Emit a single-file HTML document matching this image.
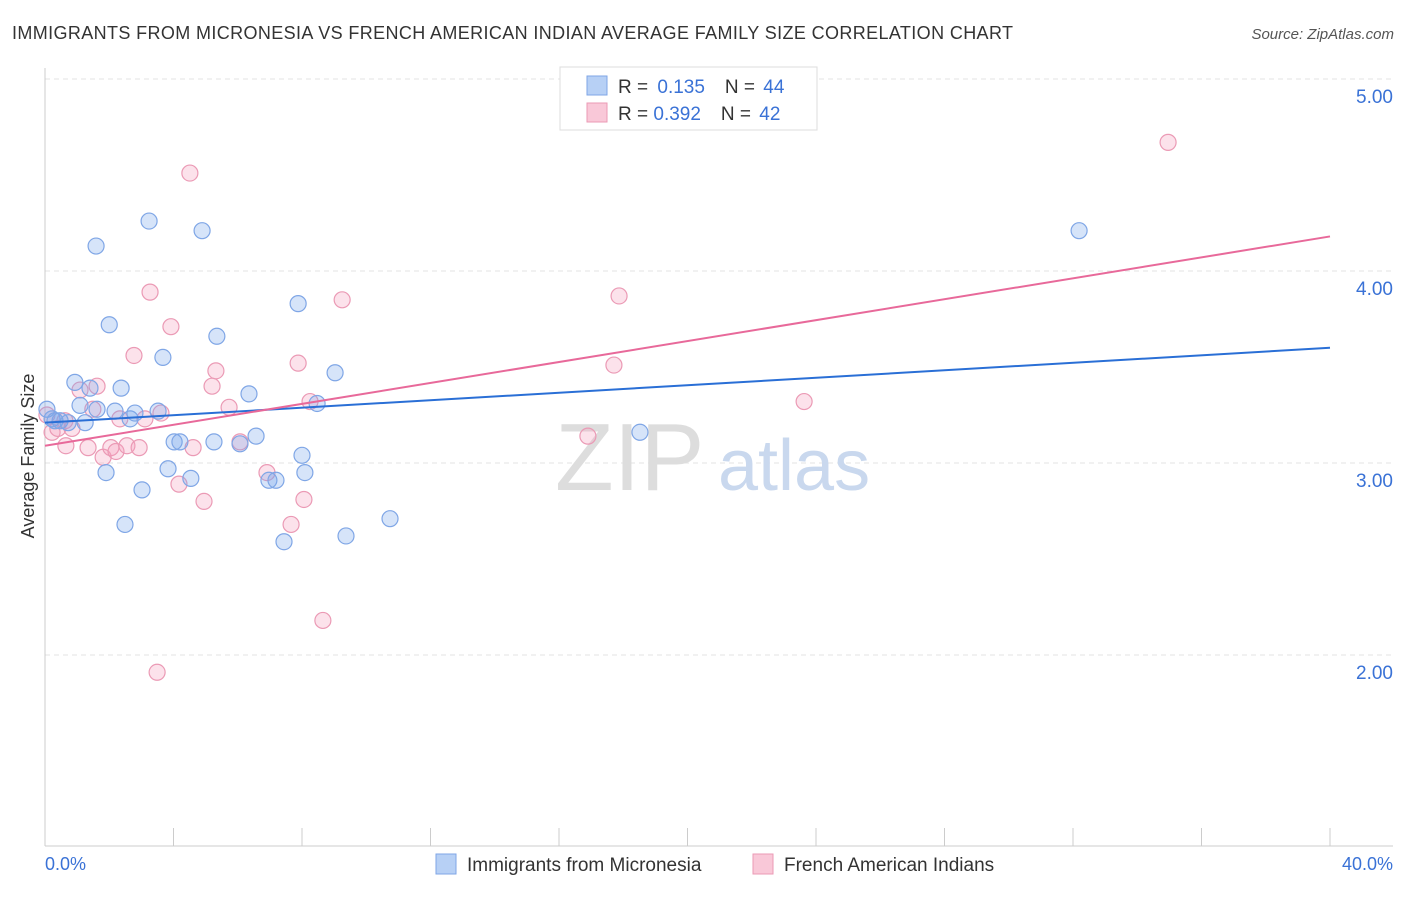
<!DOCTYPE html>
<html><head><meta charset="utf-8"><style>
body{margin:0;background:#fff;font-family:"Liberation Sans",sans-serif;}
svg text{font-family:"Liberation Sans",sans-serif;}
</style></head><body>
<svg id="chart" width="1406" height="892">
<text x="12" y="39" font-size="18" fill="#333" textLength="1001" lengthAdjust="spacing">IMMIGRANTS FROM MICRONESIA VS FRENCH AMERICAN INDIAN AVERAGE FAMILY SIZE CORRELATION CHART</text>
<text x="1394" y="39" font-size="15" fill="#555" font-style="italic" text-anchor="end">Source: ZipAtlas.com</text>
<g id="grid"></g>
<text x="555" y="490" font-size="96" fill="#ddd" font-family="Liberation Serif">ZIP</text>
<text x="718" y="490" font-size="72" fill="#c9d8ee">atlas</text>
<g id="pts"></g>
<g id="lines"></g>
<text transform="translate(34,456) rotate(-90)" font-size="18" fill="#333" text-anchor="middle">Average Family Size</text>
<text x="45" y="870" font-size="18" fill="#3a72d6">0.0%</text>
<text x="1393" y="870" font-size="18" fill="#3a72d6" text-anchor="end">40.0%</text>
<g>
<rect x="560" y="67" width="257" height="63" fill="#fff" stroke="#ddd"/>
<rect x="587" y="76" width="20" height="19" fill="#b7d0f5" stroke="#7fa6e6"/>
<rect x="587" y="103" width="20" height="19" fill="#f9c8d8" stroke="#eb9ab5"/>
<text x="618" y="93" font-size="19" fill="#333">R = <tspan dx="4" fill="#3a72d6">0.135</tspan><tspan dx="20">N = </tspan><tspan dx="3" fill="#3a72d6">44</tspan></text>
<text x="618" y="120" font-size="19" fill="#333">R = <tspan fill="#3a72d6">0.392</tspan><tspan dx="20">N = </tspan><tspan dx="3" fill="#3a72d6">42</tspan></text>
</g>
<g>
<rect x="436" y="854" width="20" height="20" fill="#b7d0f5" stroke="#7fa6e6"/>
<text x="467" y="871" font-size="19" fill="#333">Immigrants from Micronesia</text>
<rect x="753" y="854" width="20" height="20" fill="#f9c8d8" stroke="#eb9ab5"/>
<text x="784" y="871" font-size="19" fill="#333">French American Indians</text>
</g>
</svg>
<script>
const yTicks=[2,3,4,5];
const yTickLabels=["2.00","3.00","4.00","5.00"];
const xTicks=[0,4,8,12,16,20,24,28,32,36,40];
const blueX=[0.06,0.22,0.31,0.47,0.72,0.93,1.09,1.25,1.40,1.59,1.62,1.90,2.00,2.18,2.37,2.49,2.65,2.80,3.02,3.24,3.52,3.67,3.83,4.02,4.20,4.54,4.89,5.26,5.35,6.07,6.35,6.57,6.97,7.19,7.44,7.88,8.00,8.09,8.47,9.03,9.37,10.74,18.52,32.19];
const blueY=[3.28,3.23,3.22,3.22,3.21,3.42,3.30,3.21,3.39,4.13,3.28,2.95,3.72,3.27,3.39,2.68,3.23,3.26,2.86,4.26,3.27,3.55,2.97,3.11,3.11,2.92,4.21,3.11,3.66,3.10,3.36,3.14,2.91,2.91,2.59,3.83,3.04,2.95,3.31,3.47,2.62,2.71,3.16,4.21];
const pinkX=[0.06,0.22,0.40,0.62,0.65,0.84,1.09,1.34,1.49,1.62,1.81,2.05,2.21,2.33,2.55,2.77,2.93,3.11,3.27,3.49,3.61,3.92,4.17,4.51,4.61,4.95,5.20,5.32,5.73,6.07,6.91,7.66,7.88,8.06,8.25,8.65,9.25,16.90,17.71,17.87,23.63,34.96];
const pinkY=[3.25,3.16,3.18,3.22,3.09,3.18,3.38,3.08,3.28,3.40,3.03,3.08,3.06,3.23,3.09,3.56,3.08,3.23,3.89,1.91,3.26,3.71,2.89,4.51,3.08,2.80,3.40,3.48,3.29,3.11,2.95,2.68,3.52,2.81,3.32,2.18,3.85,3.14,3.51,3.87,3.32,4.67];
const blueLine=[3.21,3.60];
const pinkLine=[3.09,4.18];
const NS="http://www.w3.org/2000/svg";
const xs=v=>45+v/40*1285;
const ys=v=>79+(5-v)*192;
function mk(t,a,p){const e=document.createElementNS(NS,t);for(const k in a)e.setAttribute(k,a[k]);p.appendChild(e);return e;}
const grid=document.getElementById('grid');
yTicks.forEach((t,i)=>{
 const l=mk('line',{x1:45,x2:1393,y1:ys(t),y2:ys(t),stroke:'#e3e3e3','stroke-dasharray':'5,4'},grid);
 
 
 const tx=mk('text',{x:1393,y:ys(t)+24,'font-size':19,fill:'#3a72d6','text-anchor':'end'},grid);
 tx.textContent=yTickLabels[i];
 
 
});
const ax=mk('line',{x1:45,x2:45,y1:68,y2:846,stroke:'#ccc'},grid);


const bx=mk('line',{x1:45,x2:1393,y1:846,y2:846,stroke:'#ccc'},grid);


xTicks.forEach(t=>{const l=mk('line',{x1:xs(t),x2:xs(t),y1:828,y2:846,stroke:'#ccc'},grid);
 
 });
const pts=document.getElementById('pts');
pinkX.forEach((x,i)=>{const c=mk('circle',{cx:xs(x),cy:ys(pinkY[i]),r:8,fill:'rgba(244,160,190,0.3)',stroke:'#eb9ab5','stroke-width':1.2},pts);
 
 });
blueX.forEach((x,i)=>{const c=mk('circle',{cx:xs(x),cy:ys(blueY[i]),r:8,fill:'rgba(120,165,235,0.3)',stroke:'#7fa6e6','stroke-width':1.2},pts);
 
 });
const lines=document.getElementById('lines');
const lb=mk('line',{x1:xs(0),x2:xs(40),y1:ys(blueLine[0]),y2:ys(blueLine[1]),stroke:'#2a6fd6','stroke-width':2},lines);


const lp=mk('line',{x1:xs(0),x2:xs(40),y1:ys(pinkLine[0]),y2:ys(pinkLine[1]),stroke:'#e8699a','stroke-width':2},lines);


</script>
</body></html>
